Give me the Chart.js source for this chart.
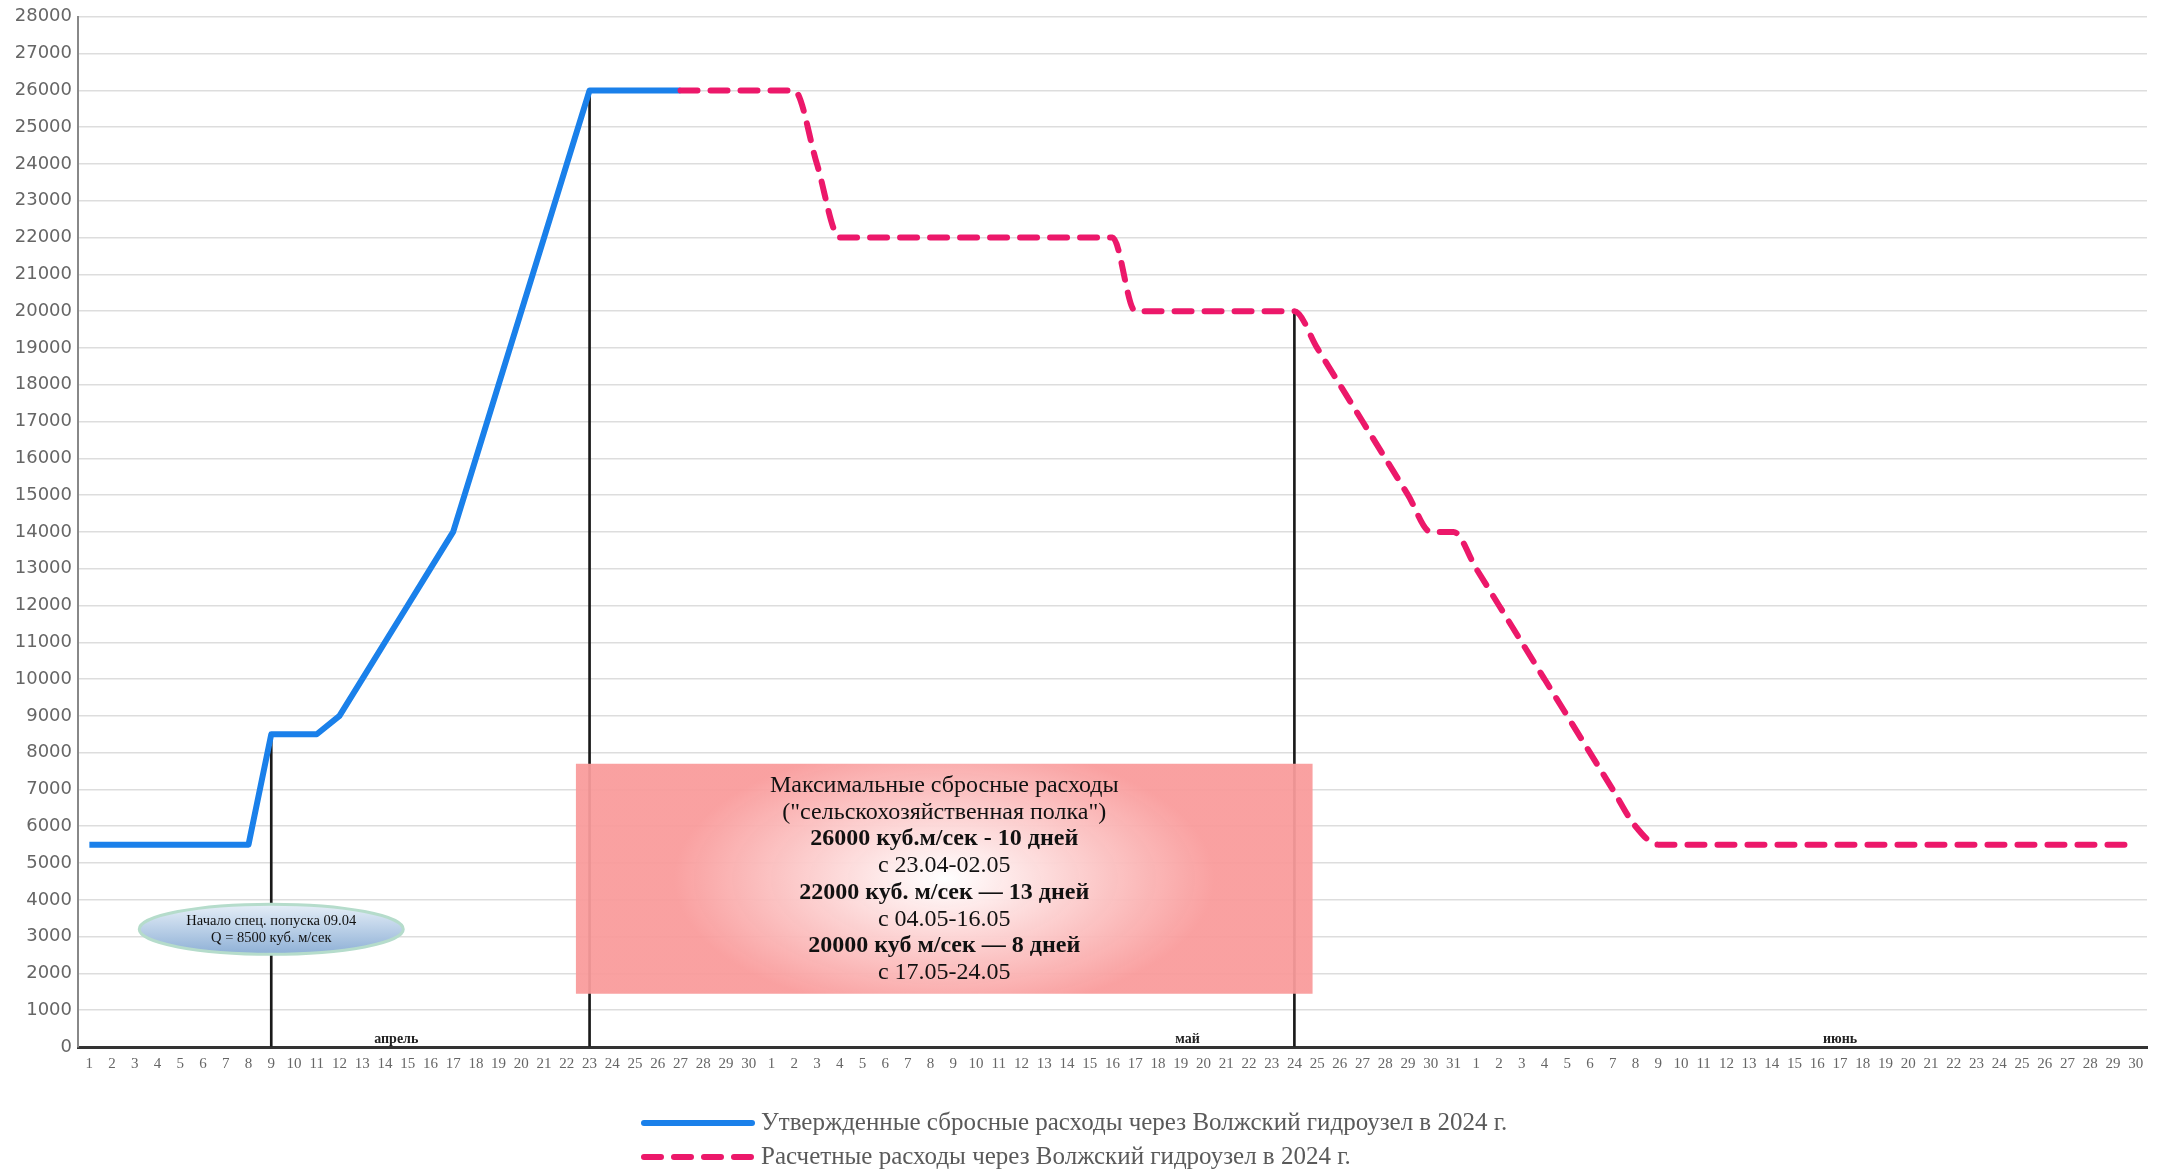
<!DOCTYPE html>
<html>
<head>
<meta charset="utf-8">
<script src="https://cdn.jsdelivr.net/npm/chart.js@4"></script>
<style>
  html, body { margin: 0; padding: 0; background: #fff; }
  #wrap { width: 2158px; height: 1170px; }
</style>
</head>
<body>
<div id="wrap"><canvas id="chart"></canvas></div>
<script>
// DATA
const monthNames = ["апрель", "май", "июнь"];
const monthLengths = [30, 31, 30];
const dayLabels = [];
monthLengths.forEach(function (n) {
  for (let d = 1; d <= n; d++) dayLabels.push(String(d));
});

// approved discharges, 1 Apr .. 27 Apr
const approved = [
  5500, 5500, 5500, 5500, 5500, 5500, 5500, 5500,
  8500, 8500, 8500, 9000,
  10000, 11000, 12000, 13000, 14000,
  16000, 18000, 20000, 22000, 24000, 26000,
  26000, 26000, 26000, 26000
];

// estimated discharges, 27 Apr .. 30 Jun
const estimatedStart = 26;
const estimated = [
  26000, 26000, 26000, 26000, 26000, 26000, // 27.04-02.05
  24000,                                     // 03.05
  22000, 22000, 22000, 22000, 22000, 22000, 22000,
  22000, 22000, 22000, 22000, 22000, 22000, // 04.05-16.05
  20000, 20000, 20000, 20000, 20000, 20000, 20000, 20000, // 17.05-24.05
  19000, 18000, 17000, 16000, 15000, 14000, 14000,        // 25.05-31.05
  13000, 12000, 11000, 10000, 9000, 8000, 7000, 6000,     // 01.06-08.06
  5500, 5500, 5500, 5500, 5500, 5500, 5500, 5500, 5500, 5500, 5500,
  5500, 5500, 5500, 5500, 5500, 5500, 5500, 5500, 5500, 5500, 5500 // 09.06-30.06
];

// vertical marker lines: index -> value
const markerIdx = [8, 22, 53];
const markerVal = [8500, 26000, 20000];

const yTicks = { min: 0, max: 28000, step: 1000 };

const boxLines = [
  ["Максимальные сбросные расходы", false],
  ["(\"сельскохозяйственная полка\")", false],
  ["26000 куб.м/сек - 10 дней", true],
  ["с 23.04-02.05", false],
  ["22000 куб. м/сек — 13 дней", true],
  ["с 04.05-16.05", false],
  ["20000 куб м/сек — 8 дней", true],
  ["с 17.05-24.05", false]
];
const ellipseLines = ["Начало спец. попуска 09.04", "Q = 8500 куб. м/сек"];
const monthLabelIdx = [13.5, 48.3, 77.0];

// build series arrays over all days
function padSeries(values, start) {
  const out = new Array(dayLabels.length).fill(null);
  values.forEach(function (v, i) { out[start + i] = v; });
  return out;
}
const markers = new Array(dayLabels.length).fill(null);
markerIdx.forEach(function (idx, i) { markers[idx] = markerVal[i]; });

const BLUE = "#1a80ea";
const RED = "#ec186a";

// ANNOTATIONS
const annotations = {
  id: "annotations",
  afterDatasetsDraw(chart) {
    const ctx = chart.ctx;
    const x = chart.scales.x;
    const y = chart.scales.y;

    // pink box
    const bx1 = x.getPixelForValue(21.4), bx2 = x.getPixelForValue(53.8);
    const by1 = y.getPixelForValue(7700), by2 = y.getPixelForValue(1450);
    const cx = (bx1 + bx2) / 2, cy = (by1 + by2) / 2;
    ctx.save();
    ctx.beginPath();
    ctx.rect(bx1, by1, bx2 - bx1, by2 - by1);
    ctx.clip();
    ctx.translate(cx, cy);
    ctx.scale(1, 0.5);
    const g = ctx.createRadialGradient(0, 0, 0, 0, 0, 270);
    g.addColorStop(0, "rgba(255,255,255,0.97)");
    g.addColorStop(1, "rgba(249,155,155,0.94)");
    ctx.fillStyle = g;
    ctx.fillRect(-(bx2 - bx1), -(by2 - by1) * 2, (bx2 - bx1) * 2, (by2 - by1) * 4);
    ctx.restore();

    ctx.save();
    ctx.fillStyle = "#111";
    ctx.textAlign = "center";
    ctx.textBaseline = "middle";
    boxLines.forEach(function (ln, i) {
      ctx.font = (ln[1] ? "bold " : "") + "24px 'Liberation Serif'";
      ctx.fillText(ln[0], cx, by1 + 22 + i * 26.74);
    });
    ctx.restore();

    // ellipse
    const ex = x.getPixelForValue(8), ey = y.getPixelForValue(3200);
    ctx.save();
    ctx.beginPath();
    ctx.ellipse(ex, ey, 132, 25, 0, 0, Math.PI * 2);
    const eg = ctx.createLinearGradient(0, ey - 25, 0, ey + 25);
    eg.addColorStop(0, "#e6eff8");
    eg.addColorStop(1, "#8eb0d6");
    ctx.fillStyle = eg;
    ctx.fill();
    ctx.lineWidth = 3;
    ctx.strokeStyle = "#b5dccb";
    ctx.stroke();
    ctx.fillStyle = "#111";
    ctx.font = "14.5px 'Liberation Serif'";
    ctx.textAlign = "center";
    ctx.textBaseline = "middle";
    ctx.fillText(ellipseLines[0], ex, ey - 8);
    ctx.fillText(ellipseLines[1], ex, ey + 9);
    ctx.restore();

    // month labels
    ctx.save();
    ctx.fillStyle = "#222";
    ctx.font = "bold 14px 'Liberation Serif'";
    ctx.textAlign = "center";
    ctx.textBaseline = "middle";
    monthNames.forEach(function (m, i) {
      ctx.fillText(m, x.getPixelForValue(monthLabelIdx[i]), y.getPixelForValue(220));
    });
    ctx.restore();
  },
  afterDraw(chart) {
    // legend, left-aligned block
    const ctx = chart.ctx;
    const items = chart.data.datasets.filter(function (d) { return d.inLegend; });
    ctx.save();
    items.forEach(function (d, i) {
      const ly = 1123 + i * 34;
      ctx.beginPath();
      ctx.lineWidth = 6;
      ctx.lineCap = "round";
      ctx.strokeStyle = d.borderColor;
      ctx.setLineDash(d.borderDash || []);
      ctx.moveTo(644, ly);
      ctx.lineTo(752, ly);
      ctx.stroke();
      ctx.setLineDash([]);
      ctx.fillStyle = "#5a5a5a";
      ctx.font = "25px 'Liberation Serif'";
      ctx.textAlign = "left";
      ctx.textBaseline = "middle";
      ctx.fillText(d.label, 761, ly);
    });
    ctx.restore();
  }
};

new Chart(document.getElementById("chart"), {
  type: "line",
  data: {
    labels: dayLabels,
    datasets: [
      {
        label: "Утвержденные сбросные расходы через Волжский гидроузел в 2024 г.",
        data: padSeries(approved, 0),
        borderColor: BLUE,
        backgroundColor: BLUE,
        borderWidth: 6,
        pointRadius: 0,
        tension: 0,
        borderJoinStyle: "round",
        inLegend: true,
        order: 1
      },
      {
        label: "Расчетные расходы через Волжский гидроузел в 2024 г.",
        data: padSeries(estimated, estimatedStart),
        borderColor: RED,
        backgroundColor: RED,
        borderWidth: 6,
        borderDash: [17, 13],
        borderCapStyle: "round",
        pointRadius: 0,
        cubicInterpolationMode: "monotone",
        inLegend: true,
        order: 0
      },
      {
        type: "bar",
        label: "markers",
        data: markers,
        backgroundColor: "#1a1a1a",
        barThickness: 2,
        order: 3
      }
    ]
  },
  options: {
    responsive: true,
    maintainAspectRatio: false,
    animation: false,
    layout: { padding: { top: 15, right: 11, bottom: 0, left: 0 } },
    plugins: {
      legend: { display: false },
      tooltip: { enabled: false }
    },
    scales: {
      x: {
        offset: true,
        grid: { drawOnChartArea: false, drawTicks: false },
        border: { display: true, color: "#333", width: 3 },
        ticks: {
          autoSkip: false,
          maxRotation: 0,
          padding: 8,
          color: "#666",
          font: { family: "'Liberation Serif'", size: 15 }
        },
        afterFit(scale) { scale.height = 123; }
      },
      y: {
        min: yTicks.min,
        max: yTicks.max,
        grid: { color: "#dddddd", lineWidth: 1.5, drawTicks: false },
        border: { display: true, color: "#888", width: 2 },
        ticks: {
          stepSize: yTicks.step,
          padding: 6,
          color: "#666",
          font: { family: "'DejaVu Sans'", size: 18 },
          callback: function (v) { return String(v); }
        },
        afterFit(scale) { scale.width = 78; }
      }
    }
  },
  plugins: [annotations]
});
</script>
</body>
</html>
